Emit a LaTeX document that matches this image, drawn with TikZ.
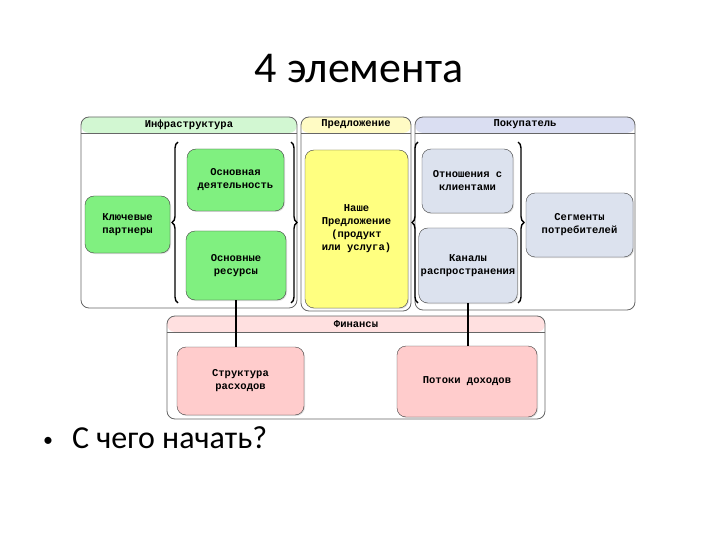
\documentclass[tikz,border=0pt]{standalone}
\usepackage{fontspec}
\setmainfont{Carlito}
\newfontfamily\cellfont{Liberation Mono}
\usetikzlibrary{positioning,calc,shadows,decorations.pathreplacing}
\definecolor{cellGreen}{HTML}{80F080}
\definecolor{cellYellow}{HTML}{FFFF80}
\definecolor{cellBlue}{HTML}{DCE2EE}
\definecolor{cellPink}{HTML}{FFCCCC}
\definecolor{headGreen}{HTML}{D2F7D2}
\definecolor{headYellow}{HTML}{FFFBC4}
\definecolor{headBlue}{HTML}{DADEF2}
\definecolor{headPink}{HTML}{FFE0E0}
\tikzset{
  cell/.style={draw=black!75,rounded corners=9pt,align=center,inner sep=2pt,
    font=\cellfont\bfseries\fontsize{10.5}{13}\selectfont,
    drop shadow={shadow xshift=1pt,shadow yshift=-1pt,fill=black!25}},
  panel/.style={draw=black!60,line width=0.8pt,rounded corners=8pt,
    path picture={
      \fill[#1] (path picture bounding box.north west) rectangle ([yshift=-16pt]path picture bounding box.north east);
      \draw[black!60,line width=0.8pt] ([yshift=-16pt]path picture bounding box.north west) -- ([yshift=-16pt]path picture bounding box.north east);
    }},
  head/.style={font=\cellfont\bfseries\fontsize{10.5}{13}\selectfont,inner sep=0pt},
  brc/.style={decorate,decoration={brace,amplitude=6pt},line width=1.4pt},
  link/.style={line width=1.2pt},
}
\begin{document}
\begin{tikzpicture}[x=1pt,y=-1pt]
\useasboundingbox (0,0) rectangle (720,540);
\node[anchor=base,font=\fontsize{44}{50}\selectfont] (title) at (359,83) {4 элемента};

% panels
\node[panel=headGreen,minimum width=216,minimum height=191] (infra) at (189,212.5) {};
\node[panel=headYellow,minimum width=110,minimum height=194] (offer) at (356,214) {};
\node[panel=headBlue,minimum width=220,minimum height=193] (cust) at (525,213.5) {};
\node[panel=headPink,minimum width=378,minimum height=103] (fin) at (356,367.5) {};
\node[head] at ([yshift=-8pt]infra.north) {Инфраструктура};
\node[head] at ([yshift=-8pt]offer.north) {Предложение};
\node[head] at ([yshift=-8pt]cust.north) {Покупатель};
\node[head] at ([yshift=-8pt]fin.north) {Финансы};

% cells
\node[cell,fill=cellGreen,minimum width=85,minimum height=57] (partners) at (127.5,224.5) {Ключевые\\партнеры};
\node[cell,fill=cellGreen,minimum width=97,minimum height=62] (activities) at (235.5,180) {Основная\\деятельность};
\node[cell,fill=cellGreen,minimum width=100,minimum height=69] (resources) at (236,265.5) {Основные\\ресурсы};
\node[cell,fill=cellYellow,minimum width=103,minimum height=158] (value) at (356.5,229) {Наше\\Предложение\\(продукт\\или услуга)};
\node[cell,fill=cellBlue,minimum width=91,minimum height=64] (relations) at (467.5,181) {Отношения с\\клиентами};
\node[cell,fill=cellBlue,minimum width=94,minimum height=75] (channels) at (468,265.5) {Каналы\\распространения};
\node[cell,fill=cellBlue,minimum width=107,minimum height=64] (segments) at (579.5,225) {Сегменты\\потребителей};
\node[cell,fill=cellPink,minimum width=127,minimum height=68] (costs) at (240.5,381) {Структура\\расходов};
\node[cell,fill=cellPink,minimum width=140,minimum height=71] (revenue) at (467,381.5) {Потоки доходов};

% braces
\draw[brc] (178,303) -- (178,142);
\draw[brc] (291,142) -- (291,303);
\draw[brc] (418,303) -- (418,142);
\draw[brc] (518,142) -- (518,303);

% links to finance
\draw[link] (resources.south) -- (resources.south |- costs.north);
\draw[link] (channels.south) -- (channels.south |- revenue.north);

\node[anchor=base west,font=\fontsize{32}{36}\selectfont,inner sep=0pt] (start) at (43,448)
  {\makebox[29pt][l]{\raisebox{2pt}{\fontsize{20}{20}\selectfont\textbullet}}С чего начать?};
\end{tikzpicture}
\end{document}
